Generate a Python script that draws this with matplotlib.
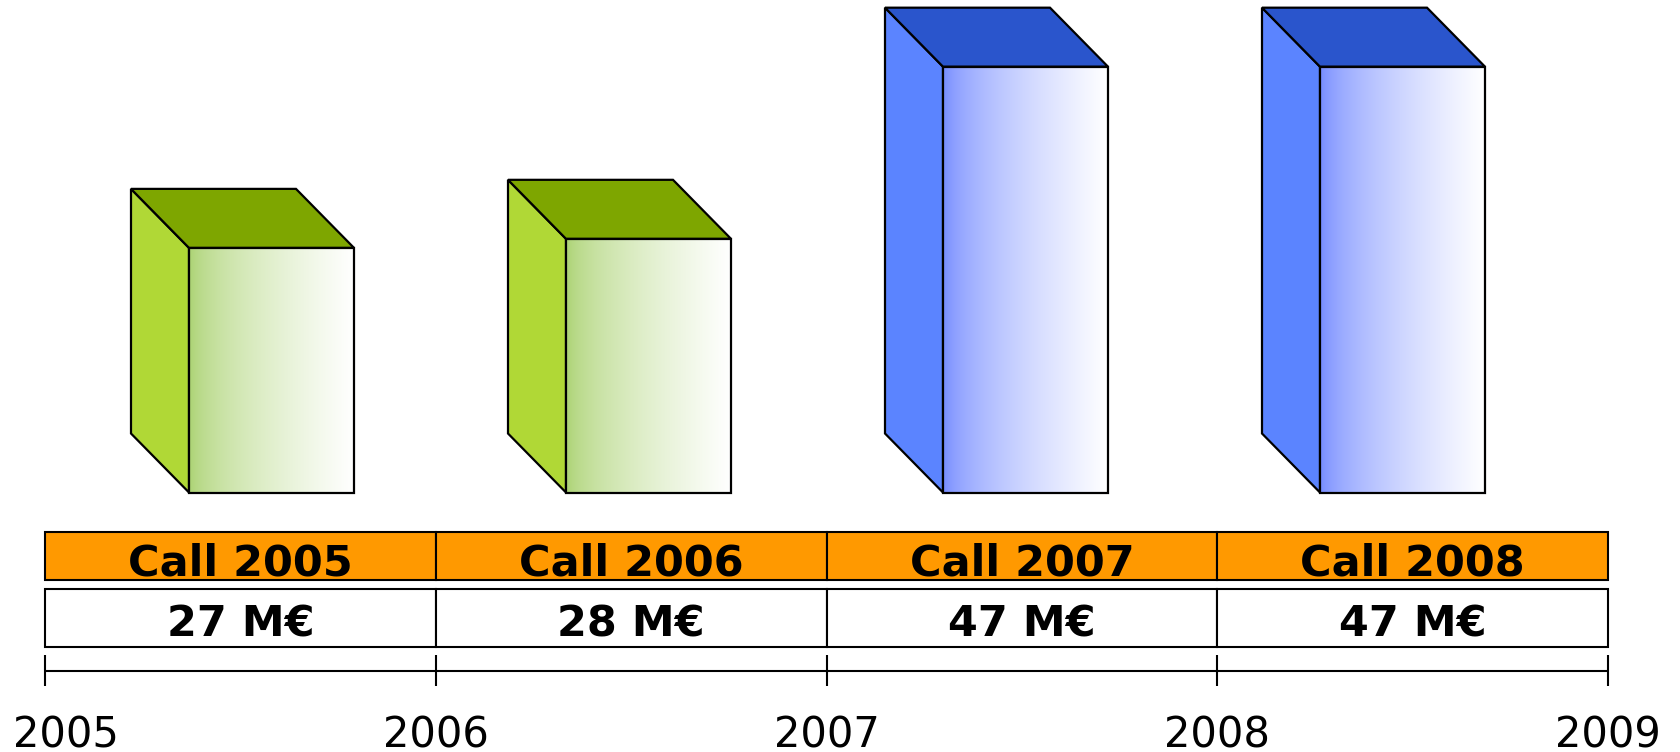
"""Budget per call (2005-2008): 3D-style boxes above a call / amount table and a year timeline."""
import numpy as np
import matplotlib
matplotlib.use("Agg")
import matplotlib.pyplot as plt
from matplotlib.patches import Rectangle, Polygon

plt.rcParams["font.family"] = ["DejaVu Sans"]

CALLS = ["Call 2005", "Call 2006", "Call 2007", "Call 2008"]
BUDGET_MEUR = [27, 28, 47, 47]
AMOUNT_LABELS = ["27 M€", "28 M€", "47 M€", "47 M€"]
YEARS = [2005, 2006, 2007, 2008, 2009]

# colour per box: (side, top, left edge of front gradient)
GREEN = ("#B0D836", "#7EA600", (0.66, 0.82, 0.43))
BLUE = ("#5B84FF", "#2A55CC", (0.44, 0.53, 1.0))
BOX_COLORS = [GREEN, GREEN, BLUE, BLUE]

ORANGE = "#FF9900"

W, H, DPI = 1680, 752, 100
fig = plt.figure(figsize=(W / DPI, H / DPI), dpi=DPI)
fig.patch.set_facecolor("white")

# ---- table + timeline (x in years, y in px from top) ----
ax = fig.add_axes([0, 0, 1, 1])
px_per_year = (1608 - 45) / (YEARS[-1] - YEARS[0])
ax.set_xlim(YEARS[0] - 45 / px_per_year, YEARS[0] + (W - 45) / px_per_year)
ax.set_ylim(H, 0)
ax.axis("off")

for i, (call, amount) in enumerate(zip(CALLS, AMOUNT_LABELS)):
    x0 = YEARS[i]
    ax.add_patch(Rectangle((x0, 531.5), 1, 48.5, fc=ORANGE, ec="black", lw=1.5))
    ax.add_patch(Rectangle((x0, 589), 1, 58, fc="white", ec="black", lw=1.5))
    ax.text(x0 + 0.5, 575, call, ha="center", va="baseline",
            fontsize=31, fontweight="bold")
    ax.text(x0 + 0.5, 636.5, amount, ha="center", va="baseline",
            fontsize=31, fontweight="bold")

ax.hlines(671, YEARS[0], YEARS[-1], color="black", lw=1.5)
ax.vlines(YEARS, 655, 686, color="black", lw=1.5)
for k, yr in enumerate(YEARS):
    if k == 0:
        # first label sits against the left edge
        ax.text(yr, 747, str(yr), ha="left", va="baseline", fontsize=30,
                transform=ax.transData + matplotlib.transforms.ScaledTranslation(-32 / DPI, 0, fig.dpi_scale_trans))
    else:
        ax.text(yr, 747, str(yr), ha="center", va="baseline", fontsize=30)

# ---- boxes (x = box index, y = M€) ----
bx = fig.add_axes([0, 0, 1, 1])
bx.patch.set_alpha(0)
bx.axis("off")
step_px = 377
px_per_meur = 9.06
bx.set_xlim(-189 / step_px, (W - 189) / step_px)
bx.set_ylim(-(H - 492.5) / px_per_meur, 492.5 / px_per_meur)

w = 165 / step_px      # front face width
dx = -58 / step_px     # depth offset (left)
dy = 59 / px_per_meur  # depth offset (up)

t = np.linspace(0, 1, 256) ** 0.6
for i, (v, (side_c, top_c, grad_c)) in enumerate(zip(BUDGET_MEUR, BOX_COLORS)):
    x0 = i
    side = Polygon([(x0, 0), (x0, v), (x0 + dx, v + dy), (x0 + dx, dy)],
                   closed=True, fc=side_c, ec="black", lw=1.6, zorder=2)
    top = Polygon([(x0, v), (x0 + w, v), (x0 + w + dx, v + dy), (x0 + dx, v + dy)],
                  closed=True, fc=top_c, ec="black", lw=1.6, zorder=2)
    bx.add_patch(side)
    bx.add_patch(top)
    left = np.array(grad_c)
    grad = left[None, None, :] + (1 - left[None, None, :]) * t[None, :, None]
    bx.imshow(grad, extent=(x0, x0 + w, 0, v), aspect="auto", zorder=2,
              interpolation="bilinear")
    bx.add_patch(Rectangle((x0, 0), w, v, fc="none", ec="black", lw=1.6, zorder=3))

bx.set_xlim(-189 / step_px, (W - 189) / step_px)
bx.set_ylim(-(H - 492.5) / px_per_meur, 492.5 / px_per_meur)

fig.savefig("out.png", dpi=DPI, facecolor="white")
